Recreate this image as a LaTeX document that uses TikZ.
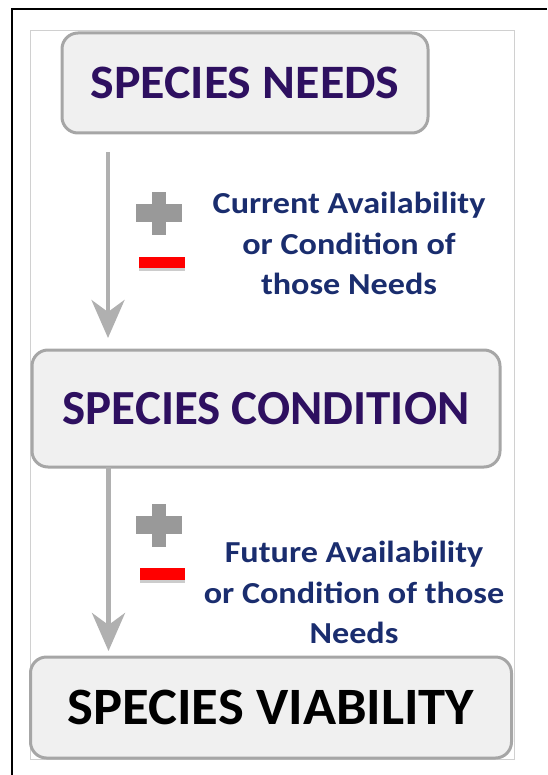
\documentclass[tikz,border=0pt]{standalone}
\usepackage{fontspec}
\setmainfont{Carlito}
\newfontfamily\labelfont[FakeStretch=1.12]{Carlito}
\newfontfamily\titlefont[FakeStretch=1.04]{Carlito}
\usetikzlibrary{arrows.meta}
\definecolor{boxfill}{HTML}{F0F0F0}
\definecolor{boxline}{HTML}{A6A6A6}
\definecolor{titlepurple}{HTML}{2E1060}
\definecolor{labelnavy}{HTML}{1A2D6E}
\definecolor{arrowgray}{HTML}{B0B0B0}
\definecolor{plusgray}{HTML}{999999}
\definecolor{framegray}{HTML}{D0D0D0}
\tikzset{
  stagebox/.style={draw=boxline, fill=boxfill, line width=3pt, rounded corners=16pt, inner sep=0pt},
  flowarrow/.style={draw=arrowgray, line width=4.5pt, -{Stealth[length=38pt, width=33pt, inset=12pt]}},
  sidelabel/.style={text=labelnavy, font=\labelfont\fontsize{30.5}{40.5}\selectfont\bfseries, align=center, inner sep=0pt},
}
\begin{document}
\begin{tikzpicture}[x=1pt, y=-1pt]
\useasboundingbox (0,0) rectangle (547,775);
% outer frame (right and bottom edges lie outside the picture)
\draw[black, line width=2pt] (12,775) -- (12,9) -- (547,9);
% inner frame
\draw[framegray, line width=1pt] (30,31) rectangle (514.5,759);
% boxes
\node[stagebox, minimum width=366pt, minimum height=100pt, text=titlepurple, font=\titlefont\fontsize{48}{50}\selectfont\bfseries] (needs) at (245,83) {SPECIES NEEDS};
\node[stagebox, minimum width=468pt, minimum height=117pt, text=titlepurple, font=\fontsize{49}{50}\selectfont\bfseries] (cond) at (266,408.5) {SPECIES CONDITION};
\node[stagebox, minimum width=481pt, minimum height=101pt, text=black, font=\titlefont\fontsize{52.5}{55}\selectfont\bfseries] (viab) at (271,707.5) {SPECIES VIABILITY};
% arrows
\coordinate (a1s) at (108,152);
\coordinate (a1e) at (108,338);
\coordinate (a2s) at (108.5,467);
\coordinate (a2e) at (108.5,651);
\draw[flowarrow] (a1s) -- (a1e);
\draw[flowarrow] (a2s) -- (a2e);
% plus / minus signs
\fill[plusgray] (152,192) rectangle (166,235);
\fill[plusgray] (136,204) rectangle (182,222);
\fill[gray!40] (139,266) rectangle (185,271);
\fill[red] (139,257) rectangle (185,268);
\fill[plusgray] (152,504) rectangle (166,547);
\fill[plusgray] (136,516) rectangle (182,534);
\fill[gray!40] (140,578) rectangle (185,583);
\fill[red] (140,568) rectangle (185,580);
% labels
\node[sidelabel] (lab1) at (349,243.5) {Current Availability\\or Condition of\\those Needs};
\node[sidelabel] (lab2) at (354,592.5) {Future Availability\\or Condition of those\\Needs};
\end{tikzpicture}
\end{document}
